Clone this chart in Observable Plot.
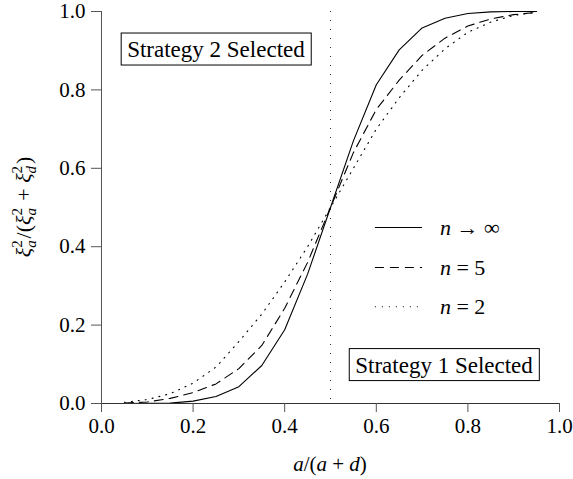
<!DOCTYPE html>
<html>
<head>
<meta charset="utf-8">
<script src="https://cdn.jsdelivr.net/npm/d3@7"></script>
<script src="https://cdn.jsdelivr.net/npm/@observablehq/plot@0.6"></script>
<style>
  html, body { margin: 0; padding: 0; background: #fff; }
  #chart svg { display: block; }
  #chart svg text { font-family: "Liberation Serif", "Times New Roman", Times, "DejaVu Serif", "Noto Serif", serif; }
</style>
</head>
<body>
<div id="chart"></div>
<script>
// ---- data ----
const xValues = [0.05, 0.10, 0.15, 0.20, 0.25, 0.30, 0.35, 0.40, 0.45, 0.50, 0.55, 0.60, 0.65, 0.70, 0.75, 0.80, 0.85, 0.90, 0.95];
const nInfinity = [0.000, 0.0002, 0.001, 0.006, 0.018, 0.043, 0.097, 0.188, 0.330, 0.500, 0.670, 0.813, 0.902, 0.958, 0.983, 0.995, 0.999, 1.000, 1.000];
const nFive     = [0.001, 0.004, 0.013, 0.028, 0.050, 0.089, 0.148, 0.243, 0.360, 0.500, 0.640, 0.750, 0.825, 0.888, 0.932, 0.963, 0.981, 0.992, 0.998];
const nTwo      = [0.003, 0.010, 0.025, 0.052, 0.093, 0.158, 0.228, 0.310, 0.400, 0.500, 0.600, 0.700, 0.780, 0.850, 0.905, 0.947, 0.973, 0.990, 0.998];
const seriesLabels = ["n → ∞", "n = 5", "n = 2"];
const xTicks = [0, 0.2, 0.4, 0.6, 0.8, 1.0];
const yTicks = [0, 0.2, 0.4, 0.6, 0.8, 1.0];
const threshold = [0.5];
// legend / annotation placement (data units)
const legendRowsY = [0.449, 0.347, 0.247];
const legendLineX = [0.598, 0.701];
const legendTextX = 0.74;
const annotations = [
  {text: "Strategy 2 Selected", x: 0.251, y: 0.903},
  {text: "Strategy 1 Selected", x: 0.749, y: 0.098}
];

const dashes = ["none", "9,6", "1,6"];
const seriesValues = [nInfinity, nFive, nTwo];
const tables = seriesValues.map((vals, i) => xValues.map((x, j) => ({x, y: vals[j], series: seriesLabels[i]})));
const legendTable = seriesLabels.map((s, i) => ({series: s, y: legendRowsY[i], x1: legendLineX[0], x2: legendLineX[1]}));

const FONT = '"Liberation Serif", "Times New Roman", Times, "DejaVu Serif", "Noto Serif", serif';

const plot = Plot.plot({
  width: 573,
  height: 479,
  marginLeft: 101,
  marginRight: 14,
  marginTop: 11,
  marginBottom: 76,
  style: {fontFamily: FONT, fontSize: "21px", color: "black", background: "white"},
  x: {domain: [0, 1]},
  y: {domain: [0, 1]},
  marks: [
    Plot.ruleX(threshold, {stroke: "#333", strokeWidth: 1, strokeDasharray: "1,8"}),
    ...tables.map((t, i) => Plot.line(t, {x: "x", y: "y", stroke: "black", strokeWidth: 1.1, strokeDasharray: dashes[i]})),
    ...legendTable.map((r, i) => Plot.ruleY([r], {y: "y", x1: "x1", x2: "x2", stroke: "black", strokeWidth: 1.1, strokeDasharray: dashes[i]})),
    Plot.ruleX([0], {stroke: "#555", strokeWidth: 1}),
    Plot.ruleY([0], {stroke: "#333", strokeWidth: 1}),
    Plot.axisX({ticks: xTicks, tickFormat: d3.format(".1f"), tickSize: 9, tickPadding: 6, label: null, stroke: "#555", fill: "black"}),
    Plot.axisY({ticks: yTicks, tickFormat: d3.format(".1f"), tickSize: 10, tickPadding: 6, label: null, stroke: "#555", fill: "black"})
  ]
});

document.getElementById("chart").appendChild(plot);

const svg = d3.select(plot);
const sx = plot.scale("x").apply, sy = plot.scale("y").apply;

// legend labels
legendTable.forEach((r, i) => {
  const t = svg.append("text")
    .attr("x", sx(legendTextX)).attr("y", sy(r.y))
    .attr("dy", "0.35em").attr("text-anchor", "start")
    .attr("font-size", 22).attr("fill", "black");
  const parts = r.series.split(" ");
  t.append("tspan").attr("font-style", "italic").text(parts[0]);
  t.append("tspan").text(" " + parts.slice(1).join(" "));
});

// boxed annotations
annotations.forEach(a => {
  const g = svg.append("g");
  const t = g.append("text")
    .attr("x", sx(a.x)).attr("y", sy(a.y))
    .attr("dy", "0.35em").attr("text-anchor", "middle")
    .attr("font-size", 23).attr("fill", "black")
    .text(a.text);
  const bb = t.node().getBBox();
  g.insert("rect", "text")
    .attr("x", bb.x - 6).attr("y", sy(a.y) - 16)
    .attr("width", bb.width + 12).attr("height", 32)
    .attr("fill", "white").attr("stroke", "black").attr("stroke-width", 1);
});

// x axis label: a/(a + d)
const xl = svg.append("text")
  .attr("x", (sx(0) + sx(1)) / 2).attr("y", 471)
  .attr("text-anchor", "middle")
  .attr("font-size", 21).attr("fill", "black");
xl.append("tspan").attr("font-style", "italic").text("a");
xl.append("tspan").text("/(");
xl.append("tspan").attr("font-style", "italic").text("a");
xl.append("tspan").text(" + ");
xl.append("tspan").attr("font-style", "italic").text("d");
xl.append("tspan").text(")");

// y axis label: ξa²/(ξa² + ξd²)
const cy = (sy(0) + sy(1)) / 2;
const yl = svg.append("text")
  .attr("transform", `translate(31,${cy}) rotate(-90)`)
  .attr("text-anchor", "middle")
  .attr("font-size", 22).attr("fill", "black");
function xi(node) {
  node.append("tspan").attr("font-style", "italic").text("ξ");
}
function supsub(node, sub) {
  node.append("tspan").attr("font-size", 15).attr("dy", -9).text("2");
  node.append("tspan").attr("font-size", 15).attr("font-style", "italic").attr("dx", -7.5).attr("dy", 14).text(sub);
  node.append("tspan").attr("dy", -5).text("\u200A");
}
xi(yl); supsub(yl, "a");
yl.append("tspan").text("/(");
xi(yl); supsub(yl, "a");
yl.append("tspan").text(" + ");
xi(yl); supsub(yl, "d");
yl.append("tspan").text(")");
</script>
</body>
</html>
